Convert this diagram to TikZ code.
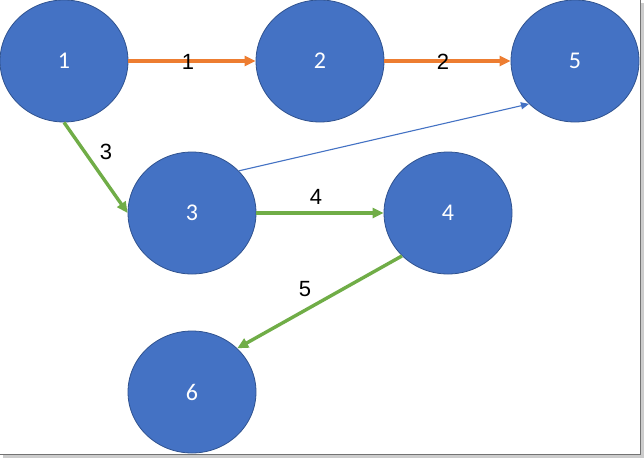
\documentclass[tikz,border=0pt]{standalone}
\usepackage{fontspec}
\setmainfont{Liberation Sans}
\newfontfamily\nodefont{Carlito}
\usetikzlibrary{shapes.geometric,arrows.meta}
\definecolor{nodeblue}{HTML}{4472C4}
\definecolor{nodeedge}{HTML}{2F528F}
\definecolor{edgeorange}{HTML}{ED7D31}
\definecolor{edgegreen}{HTML}{70AD47}
\tikzset{
  vertex/.style={ellipse, draw=nodeedge, line width=0.8pt, fill=nodeblue,
    minimum width=128pt, minimum height=122pt, inner sep=0pt,
    text=white, font=\nodefont\fontsize{24}{28}\selectfont},
  orangearrow/.style={draw=edgeorange, line width=3.4pt,
    -{Triangle[length=11pt,width=10pt]}},
  greenarrow/.style={draw=edgegreen, line width=3.4pt,
    -{Triangle[length=11pt,width=10pt]}},
  thinarrow/.style={draw=nodeblue, line width=1.1pt,
    -{Triangle[length=8pt,width=7pt]}},
  edgelabel/.style={text=black, inner sep=0pt, font=\fontsize{22}{26}\selectfont},
  frameline/.style={draw=black!55, line width=1.5pt}
}
\begin{document}
\begin{tikzpicture}[x=1pt,y=-1pt]
\useasboundingbox (0,0) rectangle (644,458);
\fill[white] (0,0) rectangle (644,458);
% frame with shadow
\fill[black!20] (641,3) rectangle (644,458);
\fill[black!20] (3,455) rectangle (644,458);
\draw[frameline] (640.5,0) -- (640.5,454.5) -- (0,454.5);

\node[vertex] (n1) at (64,61) {1};
\node[vertex] (n2) at (320,61) {2};
\node[vertex] (n5) at (575,61) {5};
\node[vertex] (n3) at (192,213) {3};
\node[vertex] (n4) at (448,213) {4};
\node[vertex] (n6) at (192,392) {6};

\draw[orangearrow] (n1.east) -- (n2.west);
\draw[orangearrow] (n2.east) -- (n5.west);
\draw[greenarrow] (n1.south) -- (n3.west);
\draw[greenarrow] (n3.east) -- (n4.west);
\draw[thinarrow] (n3.42) -- (n5.223);
\draw[greenarrow] (n4.223) -- (n6.44);

\node[edgelabel] (l1) at (188,62) {1};
\node[edgelabel] (l2) at (443,62) {2};
\node[edgelabel] (l3) at (106,152) {3};
\node[edgelabel] (l4) at (316,197) {4};
\node[edgelabel] (l5) at (305,289) {5};
\end{tikzpicture}
\end{document}
